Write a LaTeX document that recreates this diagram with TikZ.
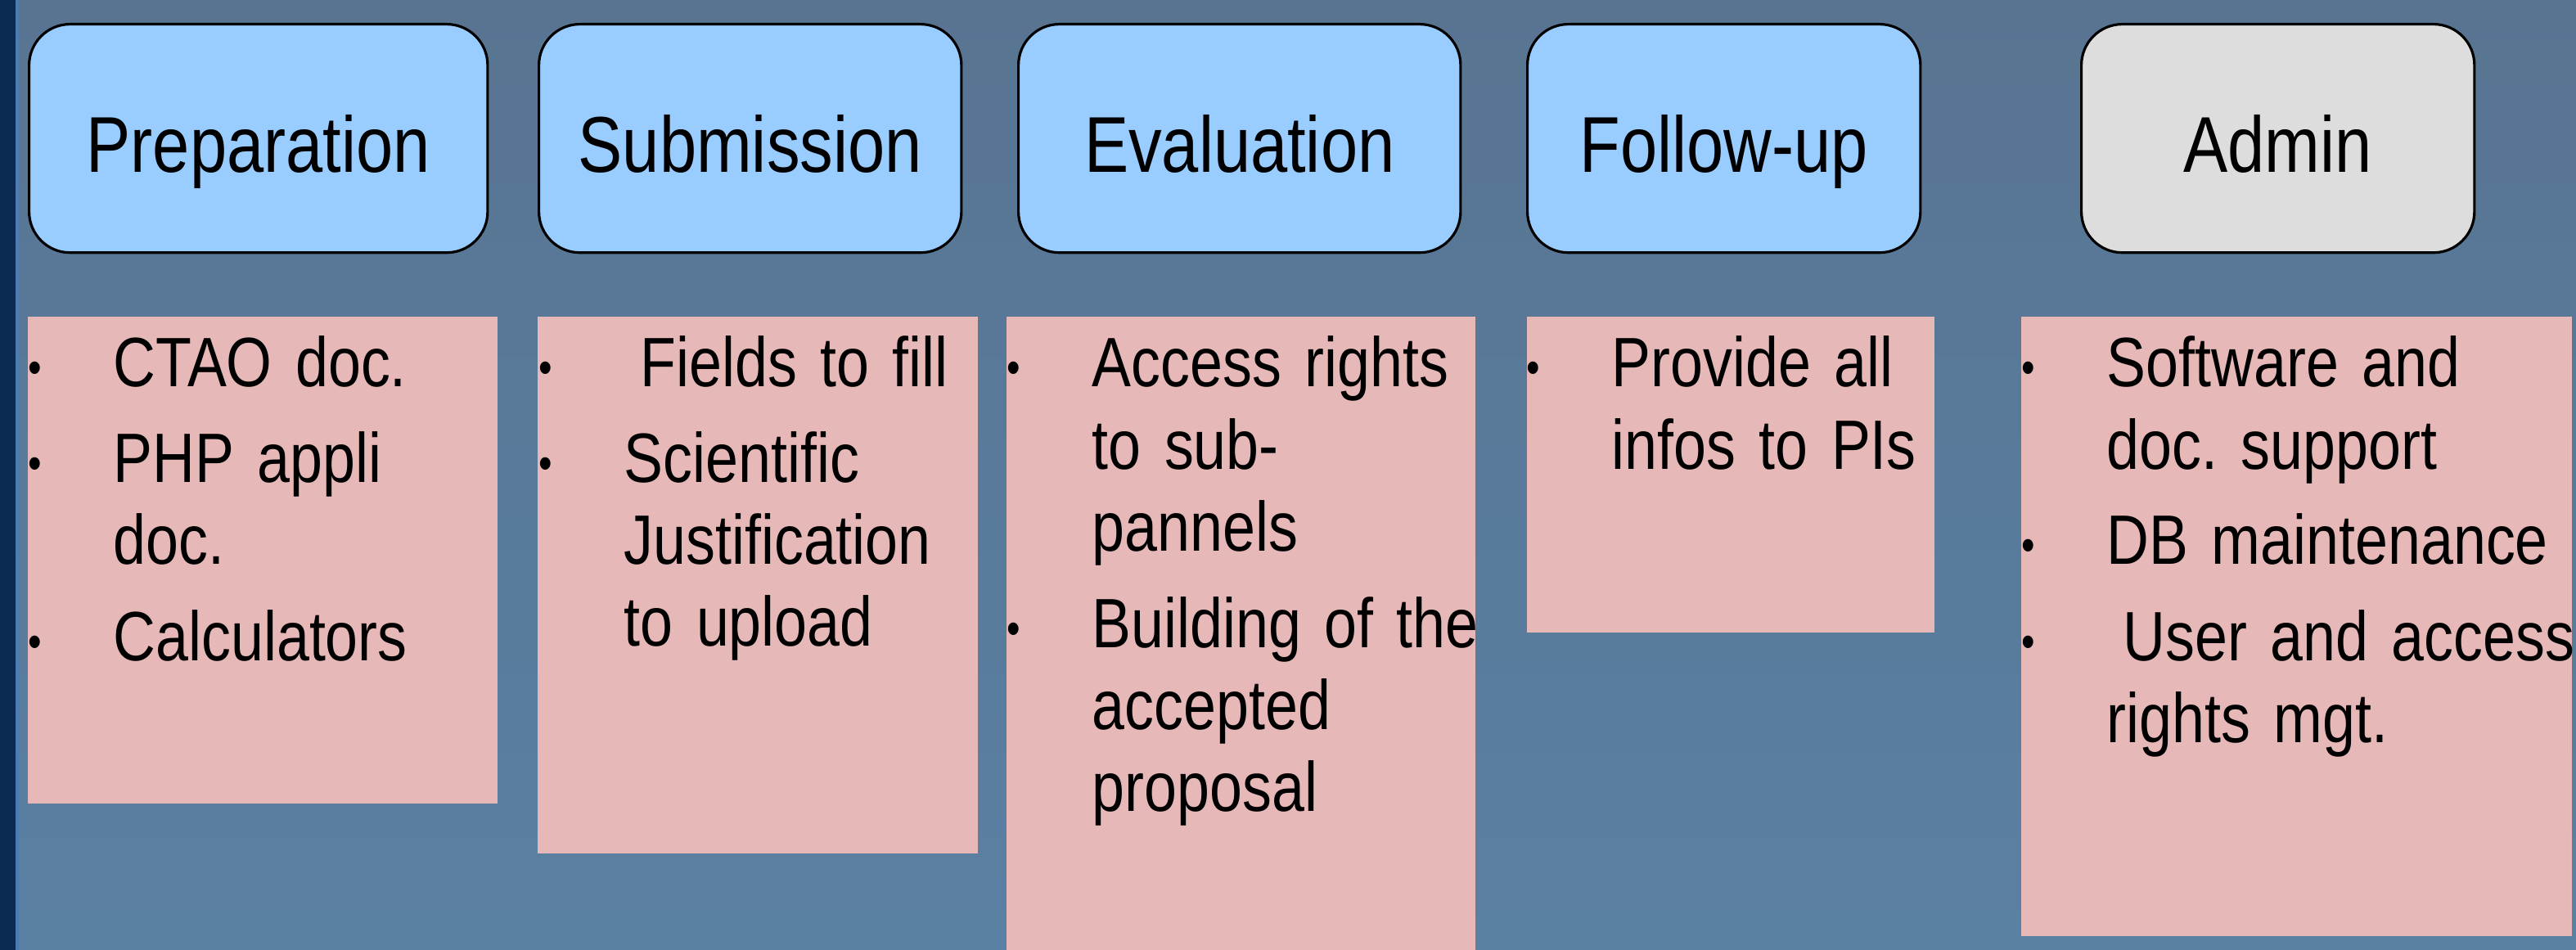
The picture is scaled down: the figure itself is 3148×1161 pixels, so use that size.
\documentclass[tikz,border=0pt]{standalone}
\usepackage{fontspec}
\setmainfont{Liberation Sans}[FakeStretch=0.84]
\frenchspacing

\definecolor{bgtop}{HTML}{587491}
\definecolor{bgbot}{HTML}{5A80A3}
\definecolor{navy}{HTML}{0B2B52}
\definecolor{rim}{HTML}{4A7DB5}
\definecolor{phaseblue}{HTML}{99CCFF}
\definecolor{phasegray}{HTML}{DDDDDD}
\definecolor{listpink}{HTML}{E6B8B7}

\newcommand{\bul}{\makebox[0pt][r]{\raisebox{0.04cm}{\fontsize{16}{16}\selectfont\textbullet}\hspace{0.88cm}}}

\begin{document}
\begin{tikzpicture}[x=0.01cm,y=-0.01cm,
    phase/.style={draw=black, line width=0.9pt, rounded corners=0.5cm, fill=phaseblue,
        minimum height=2.79cm, anchor=north west, inner sep=0pt,
        text height=0.83cm, text depth=0pt, font=\fontsize{27.5}{33}\selectfont},
    listbox/.style={fill=listpink, anchor=north west, inner sep=0pt},
    items/.style={anchor=base west, inner sep=0pt, text width=6cm, align=left,
        font=\fontsize{24.3}{28.45}\selectfont}]
    \useasboundingbox (0,0) rectangle (3148,1161);
    \shade [top color=bgtop, bottom color=bgbot] (0,0) rectangle (3148,1161);
    \fill [navy] (0,0) rectangle (19,1161);
    \fill [rim] (19,0) rectangle (23,1161);

    \node [phase, minimum width=5.6cm] (prep) at (34,28) {Preparation};
    \node [phase, minimum width=5.16cm] (subm) at (657,28) {Submission};
    \node [phase, minimum width=5.4cm] (eval) at (1243,28) {Evaluation};
    \node [phase, minimum width=4.8cm] (follow) at (1865,28) {Follow-up};
    \node [phase, minimum width=4.8cm, fill=phasegray] (admin) at (2542,28) {Admin};

    \node [listbox, minimum width=5.74cm, minimum height=5.95cm] (prepList) at (33,386) {};
    \node [listbox, minimum width=5.38cm, minimum height=6.56cm] (submList) at (656,386) {};
    \node [listbox, minimum width=5.73cm, minimum height=7.8cm] (evalList) at (1229,386) {};
    \node [listbox, minimum width=4.98cm, minimum height=3.86cm] (followList) at (1865,386) {};
    \node [listbox, minimum width=6.73cm, minimum height=7.57cm] (adminList) at (2469,386) {};

    \node [items] (prepText) at (138,473) {\bul CTAO doc.\\[0.16cm] \bul PHP appli\\ doc.\\[0.18cm] \bul Calculators};
    \node [items] (submText) at (762,473) {\bul\hspace{0.2cm}Fields to fill\\[0.16cm] \bul Scientific\\ Justification\\ to upload};
    \node [items] (evalText) at (1334,473) {\bul Access rights\\ to sub-\\ pannels\\[0.18cm] \bul Building of the\\ accepted\\ proposal};
    \node [items] (followText) at (1969,473) {\bul Provide all\\ infos to PIs};
    \node [items] (adminText) at (2574,473) {\bul Software and\\ doc. support\\[0.16cm] \bul DB maintenance\\[0.18cm] \bul\hspace{0.2cm}User and access\\ rights mgt.};
\end{tikzpicture}
\end{document}
